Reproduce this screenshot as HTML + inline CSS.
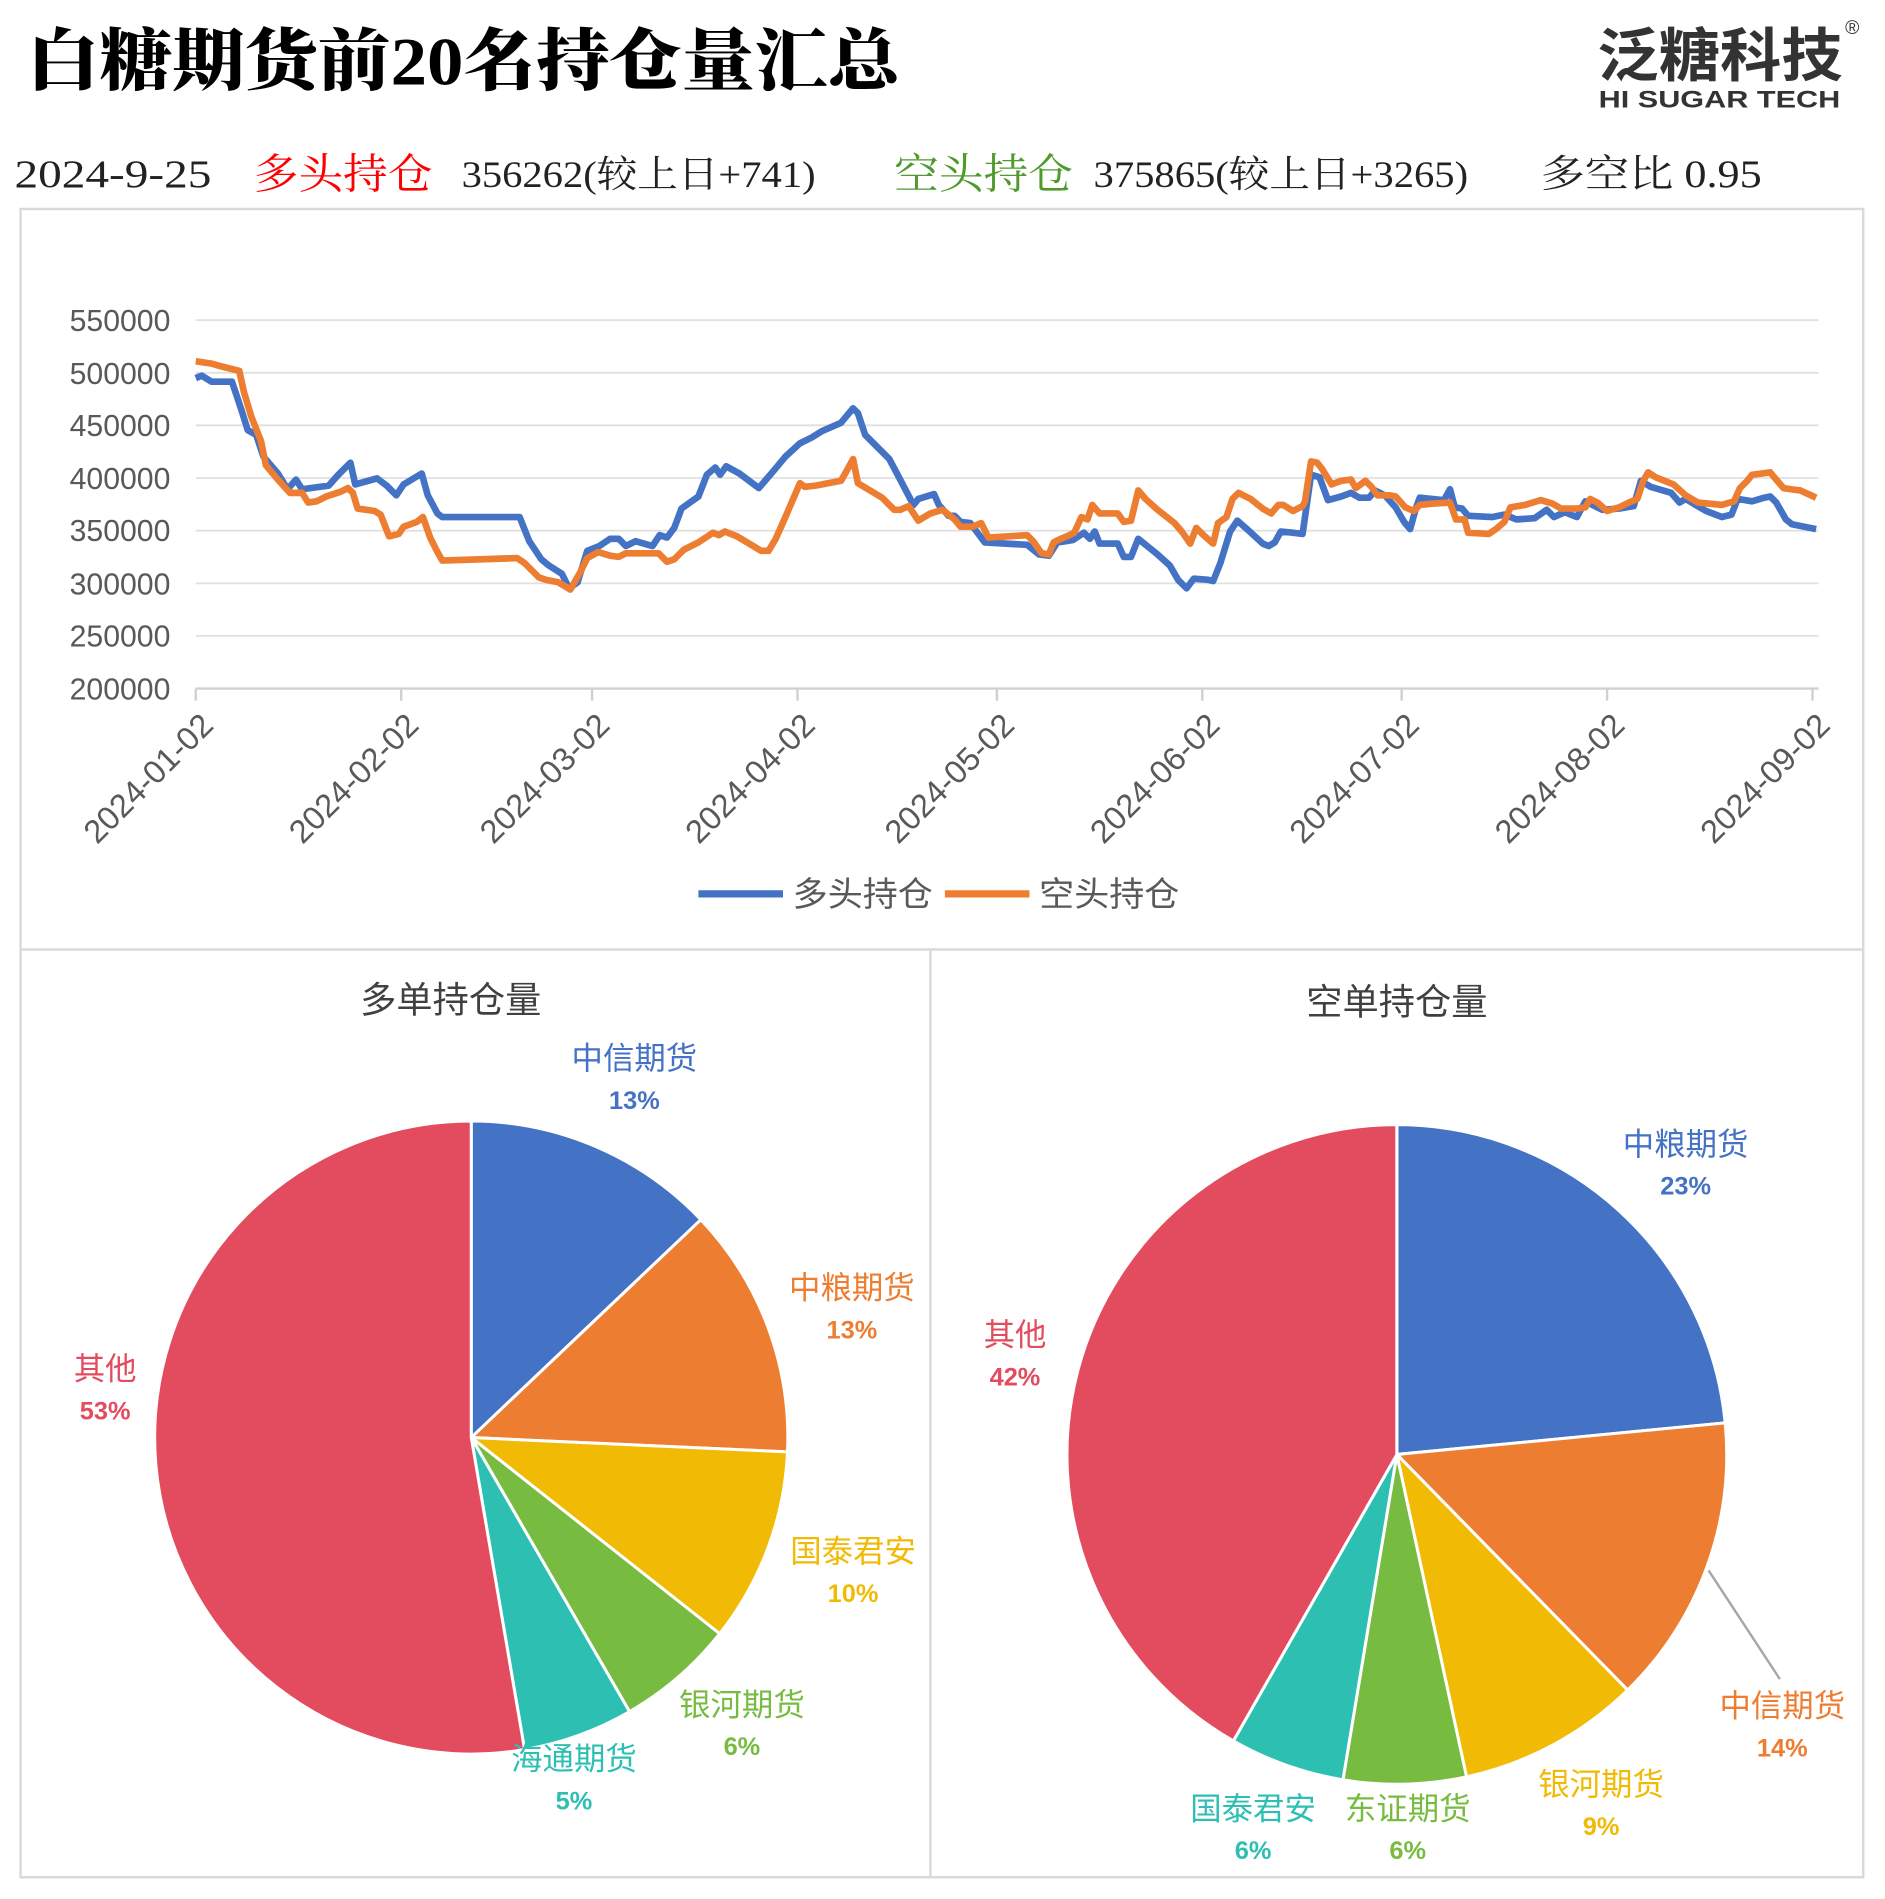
<!DOCTYPE html>
<html><head><meta charset="utf-8"><style>
html,body{margin:0;padding:0;background:#fff;}
svg{display:block;}
</style></head><body>
<svg id="s" width="1885" height="1899" viewBox="0 0 1560 1572" preserveAspectRatio="none" xmlns="http://www.w3.org/2000/svg">
<rect width="1560" height="1572" fill="#fff"/>
<g font-family="'Liberation Serif','Noto Serif CJK SC',serif">
<text x="22" y="70" font-size="56" font-weight="900" fill="#000" textLength="723" lengthAdjust="spacingAndGlyphs">白糖期货前20名持仓量汇总</text>
<text x="12" y="155" font-size="32" fill="#222" textLength="163" lengthAdjust="spacingAndGlyphs">2024-9-25</text>
<text x="210" y="156" font-size="35" fill="#f00" textLength="148" lengthAdjust="spacingAndGlyphs">多头持仓</text>
<text x="382" y="155" font-size="31" fill="#222" textLength="293" lengthAdjust="spacingAndGlyphs">356262(较上日+741)</text>
<text x="740" y="156" font-size="35" fill="#4e9a2c" textLength="148" lengthAdjust="spacingAndGlyphs">空头持仓</text>
<text x="905" y="155" font-size="31" fill="#222" textLength="310" lengthAdjust="spacingAndGlyphs">375865(较上日+3265)</text>
<text x="1275" y="155" font-size="32" fill="#222" textLength="183" lengthAdjust="spacingAndGlyphs">多空比 0.95</text>
</g>
<g font-family="'Liberation Sans','Noto Sans CJK SC',sans-serif" fill="#333">
<text x="1322" y="63" font-size="48" font-weight="bold" textLength="203" lengthAdjust="spacingAndGlyphs">泛糖科技</text>
<text x="1323" y="89" font-size="20" font-weight="bold" textLength="200" lengthAdjust="spacingAndGlyphs">HI SUGAR TECH</text>
<text x="1527" y="28" font-size="16">®</text>
</g>
<g fill="none" stroke="#d9d9d9" stroke-width="2">
<rect x="17" y="173" width="1525" height="1381"/>
<line x1="17" y1="786" x2="1542" y2="786"/>
<line x1="770" y1="786" x2="770" y2="1554"/>
</g>
<g stroke="#e0e0e0" stroke-width="1.5">
<line x1="162" y1="265" x2="1505" y2="265"/><line x1="162" y1="308.6" x2="1505" y2="308.6"/>
<line x1="162" y1="352.1" x2="1505" y2="352.1"/><line x1="162" y1="395.7" x2="1505" y2="395.7"/>
<line x1="162" y1="439.3" x2="1505" y2="439.3"/><line x1="162" y1="482.9" x2="1505" y2="482.9"/>
<line x1="162" y1="526.4" x2="1505" y2="526.4"/>
</g>
<g stroke="#d0d0d0" stroke-width="2">
<line x1="162" y1="570" x2="1505" y2="570"/>
<line x1="162" y1="570" x2="162" y2="580"/><line x1="332" y1="570" x2="332" y2="580"/>
<line x1="490" y1="570" x2="490" y2="580"/><line x1="660" y1="570" x2="660" y2="580"/>
<line x1="825" y1="570" x2="825" y2="580"/><line x1="995" y1="570" x2="995" y2="580"/>
<line x1="1160" y1="570" x2="1160" y2="580"/><line x1="1330" y1="570" x2="1330" y2="580"/>
<line x1="1500" y1="570" x2="1500" y2="580"/>
</g>
<g font-family="'Liberation Sans',sans-serif" font-size="25" fill="#595959" text-anchor="end">
<text x="141" y="274">550000</text><text x="141" y="318">500000</text><text x="141" y="361">450000</text>
<text x="141" y="405">400000</text><text x="141" y="448">350000</text><text x="141" y="492">300000</text>
<text x="141" y="535">250000</text><text x="141" y="579">200000</text>
</g>
<g id="dl" font-family="'Liberation Sans',sans-serif" font-size="27" fill="#595959" text-anchor="end"></g>
<polyline fill="none" stroke="#4472C4" stroke-width="5.5" stroke-linejoin="round" points="162,313 167,311 175,316 192,316 200,340 205,356 212,360 218,378 230,392 238,405 245,397 250,405 272,402 280,393 290,383 294,401 312,396 320,402 328,410 334,401 349,392 354,410 362,425 366,428 430,428 438,448 448,463 454,468 465,475 471,487 478,482 486,456 496,452 505,446 512,446 518,452 526,448 540,452 546,443 552,445 558,437 564,421 578,411 585,393 592,387 596,393 601,386 612,392 620,398 628,404 640,390 650,378 662,367 672,362 680,357 696,350 706,338 710,342 716,360 728,372 736,380 756,418 760,413 773,409 777,418 785,427 790,427 795,432 803,433 815,449 850,451 860,459 868,460 875,449 882,448 888,447 897,441 902,446 906,440 910,450 925,450 930,461 936,461 942,446 958,459 968,468 975,480 982,487 988,479 1000,480 1004,481 1010,466 1018,440 1024,431 1032,438 1045,450 1050,452 1055,449 1060,440 1070,441 1078,442 1085,393 1092,395 1099,414 1110,411 1118,408 1125,412 1133,412 1138,406 1146,410 1155,420 1162,432 1167,438 1172,420 1175,412 1195,414 1200,405 1204,420 1210,421 1215,427 1235,428 1245,426 1255,430 1270,429 1280,422 1286,428 1295,424 1305,428 1312,415 1320,419 1326,422 1340,421 1352,419 1358,398 1366,403 1383,408 1390,416 1395,413 1405,419 1412,423 1425,428 1433,426 1438,413 1450,415 1460,412 1465,411 1470,416 1478,430 1483,434 1503,438"/>
<polyline fill="none" stroke="#ED7D31" stroke-width="5.5" stroke-linejoin="round" points="162,299 175,301 182,303 198,307 202,325 208,345 216,365 220,385 230,397 240,408 250,408 255,416 262,415 270,411 282,407 288,404 292,408 296,421 310,423 315,426 322,444 330,442 334,436 345,432 350,428 356,445 362,457 366,464 428,462 434,466 446,478 452,480 462,482 472,488 480,474 486,462 495,457 505,460 512,461 518,458 528,458 545,458 552,465 558,463 566,455 578,449 590,441 595,443 600,440 610,444 620,450 630,456 636,456 642,446 650,428 662,400 666,403 675,402 696,398 700,391 706,380 710,400 720,406 730,412 740,422 745,422 752,419 760,431 770,425 780,422 790,430 795,436 805,436 812,433 818,445 850,443 855,448 862,458 868,459 872,449 878,446 885,443 889,441 895,428 900,430 904,418 910,425 925,425 930,432 936,431 942,406 948,413 958,422 972,433 978,440 985,450 990,437 996,443 1004,450 1008,433 1015,428 1020,413 1025,408 1035,413 1045,421 1052,425 1058,418 1062,418 1070,423 1078,419 1080,415 1085,382 1090,383 1094,388 1102,401 1110,398 1118,397 1122,404 1130,398 1135,403 1140,410 1150,410 1155,411 1163,420 1170,423 1175,418 1185,417 1200,416 1205,430 1212,430 1215,441 1232,442 1238,438 1245,432 1250,420 1262,418 1275,414 1285,417 1292,421 1305,421 1312,420 1316,413 1322,416 1330,423 1340,420 1348,416 1355,413 1360,398 1364,391 1370,395 1385,401 1395,410 1405,416 1415,417 1425,418 1435,415 1440,404 1446,398 1450,393 1458,392 1465,391 1470,397 1476,404 1482,405 1490,406 1503,412"/>
<g font-family="'Liberation Sans','Noto Sans CJK SC',sans-serif" font-size="28" fill="#595959">
<line x1="578" y1="740" x2="648" y2="740" stroke="#4472C4" stroke-width="6"/>
<text x="656" y="750" textLength="116" lengthAdjust="spacingAndGlyphs">多头持仓</text>
<line x1="782" y1="740" x2="852" y2="740" stroke="#ED7D31" stroke-width="6"/>
<text x="860" y="750" textLength="116" lengthAdjust="spacingAndGlyphs">空头持仓</text>
</g>
<g font-family="'Liberation Sans','Noto Sans CJK SC',sans-serif" font-size="30" fill="#404040" text-anchor="middle">
<text x="373" y="838">多单持仓量</text>
<text x="1156" y="840">空单持仓量</text>
</g>
<g id="p1"></g><g id="p2"></g>
<line x1="1414" y1="1300" x2="1473" y2="1390" stroke="#a6a6a6" stroke-width="2"/>
<g id="lb" font-family="'Liberation Sans','Noto Sans CJK SC',sans-serif" text-anchor="middle"></g>
</svg>
<script>
var NS="http://www.w3.org/2000/svg";
function el(p,t,a,txt){var e=document.createElementNS(NS,t);for(var k in a)e.setAttribute(k,a[k]);if(txt)e.textContent=txt;p.appendChild(e);return e;}
var dl=document.getElementById('dl');
var dates=[[162,"2024-01-02"],[332,"2024-02-02"],[490,"2024-03-02"],[660,"2024-04-02"],[825,"2024-05-02"],[995,"2024-06-02"],[1160,"2024-07-02"],[1330,"2024-08-02"],[1500,"2024-09-02"]];
dates.forEach(function(d){var x=d[0]+16,y=602;el(dl,'text',{x:x,y:y,transform:'rotate(-45 '+x+' '+y+')'},d[1]);});
function pie(g,cx,cy,r,ends,cols){var a0=0;ends.forEach(function(a1,i){var s=a0*Math.PI/180,e=a1*Math.PI/180;
var x0=cx+r*Math.sin(s),y0=cy-r*Math.cos(s),x1=cx+r*Math.sin(e),y1=cy-r*Math.cos(e);
el(g,'path',{d:'M'+cx+','+cy+'L'+x0+','+y0+'A'+r+','+r+' 0 '+((a1-a0)>180?1:0)+' 1 '+x1+','+y1+'Z',fill:cols[i],stroke:'#fff','stroke-width':2.5});a0=a1;});}
var B="#4472C4",O="#ED7D31",Y="#F0BA05",G="#77BC41",T="#2EBFB3",R="#E34C5E";
pie(document.getElementById('p1'),390,1190,262,[46.5,92.6,128.3,150,170.3,360],[B,O,Y,G,T,R]);
pie(document.getElementById('p2'),1156,1204,273,[84.5,135.6,167.8,189.4,209.7,360],[B,O,Y,G,T,R]);
var lb=document.getElementById('lb');
[[525,885,"中信期货","13%",B],[705,1075,"中粮期货","13%",O],[706,1293,"国泰君安","10%",Y],[614,1420,"银河期货","6%",G],[475,1465,"海通期货","5%",T],[87,1142,"其他","53%",R],
[1395,956,"中粮期货","23%",B],[840,1114,"其他","42%",R],[1475,1421,"中信期货","14%",O],[1325,1486,"银河期货","9%",Y],[1165,1506,"东证期货","6%",G],[1037,1506,"国泰君安","6%",T]].forEach(function(l){
el(lb,'text',{x:l[0],y:l[1],'font-size':26,fill:l[4]},l[2]);el(lb,'text',{x:l[0],y:l[1]+33,'font-size':21,'font-weight':'bold',fill:l[4]},l[3]);});
</script>
</body></html>
